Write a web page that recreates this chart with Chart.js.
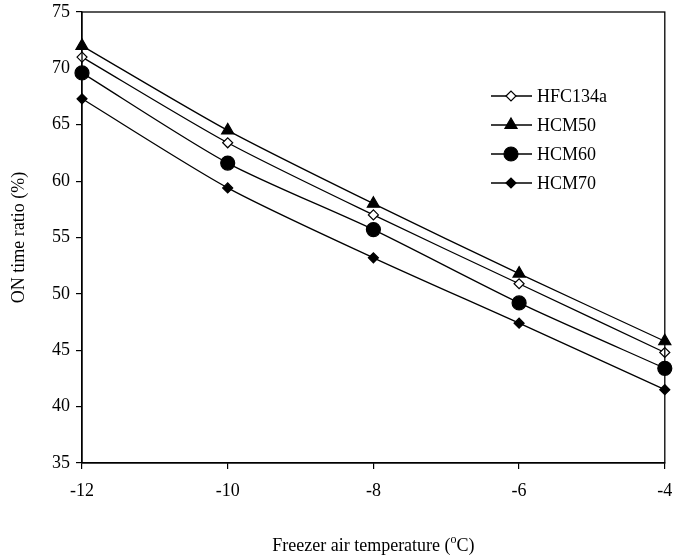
<!DOCTYPE html>
<html>
<head>
<meta charset="utf-8">
<script src="https://cdn.jsdelivr.net/npm/chart.js@4.4.0/dist/chart.umd.min.js"></script>
<style>
  html, body { margin: 0; padding: 0; background: #fff; }
  #wrap { width: 673px; height: 558px; }
</style>
</head>
<body>
<div id="wrap"><canvas id="grafico"></canvas></div>
<script>
// datos
const temperaturas = [-12, -10, -8, -6, -4];
const hfc134a = [71.0, 63.4, 57.0, 50.9, 44.8];
const hcm50 = [72.0, 64.5, 58.0, 51.8, 45.8];
const hcm60 = [69.6, 61.6, 55.7, 49.2, 43.4];
const hcm70 = [67.3, 59.4, 53.2, 47.4, 41.5];
const ticksY = [35, 40, 45, 50, 55, 60, 65, 70, 75];
const ticksX = [-12, -10, -8, -6, -4];

const fuente = "'Liberation Serif', 'Times New Roman', serif";

function puntos(valores) {
    return temperaturas.map((t, i) => ({ x: t, y: valores[i] }));
}

function serie(label, valores, estilo, radio, relleno) {
    return {
        label: label,
        data: puntos(valores),
        borderColor: '#000',
        borderWidth: 1.3,
        backgroundColor: relleno,
        pointStyle: estilo,
        pointRadius: radio,
        pointBorderColor: '#000',
        pointBackgroundColor: relleno,
        pointBorderWidth: 1.2,
        tension: 0.25,
        clip: false
    };
}

// =========================
// Caja alrededor, leyenda dentro del area y titulo x
// =========================
const extras = {
    id: 'extras',
    afterDraw(chart) {
        const ctx = chart.ctx;
        const a = chart.chartArea;
        ctx.save();
        ctx.strokeStyle = '#000';
        ctx.lineWidth = 1.3;
        ctx.strokeRect(a.left, a.top, a.right - a.left, a.bottom - a.top);

        // leyenda
        const x0 = 491, y0 = 96, paso = 29;
        ctx.font = '18px ' + fuente;
        ctx.textBaseline = 'middle';
        chart.data.datasets.forEach((ds, i) => {
            const y = y0 + i * paso;
            ctx.strokeStyle = '#000';
            ctx.lineWidth = 1.3;
            ctx.beginPath();
            ctx.moveTo(x0, y);
            ctx.lineTo(x0 + 41, y);
            ctx.stroke();
            ctx.fillStyle = ds.pointBackgroundColor;
            ctx.lineWidth = ds.pointBorderWidth;
            Chart.helpers.drawPoint(ctx, {
                pointStyle: ds.pointStyle,
                radius: ds.pointRadius,
                borderWidth: ds.pointBorderWidth
            }, x0 + 20, y);
            ctx.fillStyle = '#000';
            ctx.fillText(ds.label, x0 + 46, y + 1);
        });

        // titulo eje x con superindice
        const cx = (a.left + a.right) / 2;
        const ty = 551;
        const t1 = 'Freezer air temperature (';
        const t2 = 'C)';
        ctx.font = '18px ' + fuente;
        const w1 = ctx.measureText(t1).width;
        ctx.font = '12px ' + fuente;
        const ws = ctx.measureText('o').width;
        ctx.font = '18px ' + fuente;
        const w2 = ctx.measureText(t2).width;
        let x = cx - (w1 + ws + w2) / 2;
        ctx.fillStyle = '#000';
        ctx.textAlign = 'left';
        ctx.textBaseline = 'alphabetic';
        ctx.fillText(t1, x, ty);
        x += w1;
        ctx.font = '12px ' + fuente;
        ctx.fillText('o', x, ty - 8);
        x += ws;
        ctx.font = '18px ' + fuente;
        ctx.fillText(t2, x, ty);
        ctx.restore();
    }
};

const ctx = document.getElementById('grafico').getContext('2d');
new Chart(ctx, {
    type: 'line',
    data: {
        datasets: [
            serie('HFC134a', hfc134a, 'rectRot', 5, '#fff'),
            serie('HCM50', hcm50, 'triangle', 7, '#000'),
            serie('HCM60', hcm60, 'circle', 7, '#000'),
            serie('HCM70', hcm70, 'rectRot', 5, '#000')
        ]
    },
    options: {
        responsive: true,
        maintainAspectRatio: false,
        animation: false,
        layout: { padding: { top: 12, right: 4, left: 0, bottom: 0 } },
        plugins: {
            legend: { display: false },
            tooltip: { enabled: false }
        },
        scales: {
            x: {
                type: 'linear',
                min: -12,
                max: -4,
                afterBuildTicks: (s) => { s.ticks = ticksX.map(v => ({ value: v })); },
                afterFit: (s) => { s.height = 95; s.paddingLeft = 0; s.paddingRight = 0; },
                grid: { drawOnChartArea: false, tickLength: 6, color: '#000', lineWidth: 1.2 },
                border: { color: '#000', width: 1.3 },
                ticks: { color: '#000', padding: 11, font: { family: fuente, size: 18 } }
            },
            y: {
                min: 35,
                max: 75,
                afterBuildTicks: (s) => { s.ticks = ticksY.map(v => ({ value: v })); },
                afterFit: (s) => { s.width = 82; s.paddingTop = 0; s.paddingBottom = 0; },
                grid: { drawOnChartArea: false, tickLength: 6, color: '#000', lineWidth: 1.2 },
                border: { color: '#000', width: 1.3 },
                ticks: { color: '#000', padding: 6, font: { family: fuente, size: 18 } },
                title: {
                    display: true,
                    text: 'ON time ratio (%)',
                    color: '#000',
                    padding: { top: 8, bottom: 4 },
                    font: { family: fuente, size: 18 }
                }
            }
        }
    },
    plugins: [extras]
});
</script>
</body>
</html>
